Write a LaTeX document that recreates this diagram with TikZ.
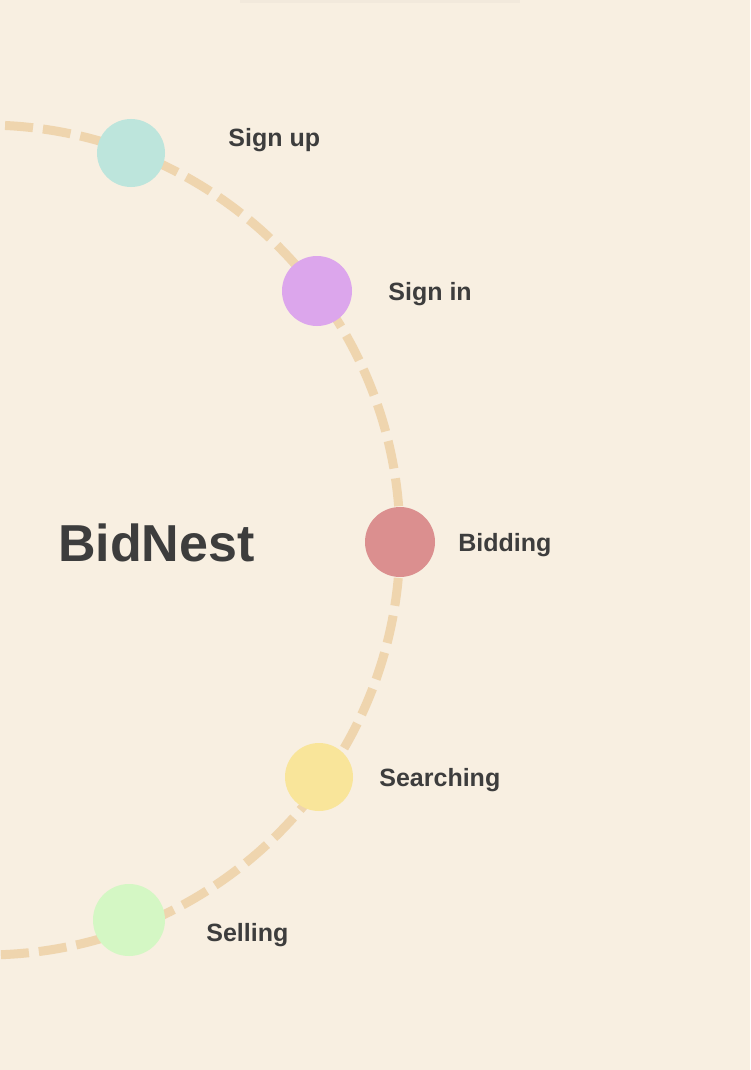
\documentclass[tikz,border=0pt]{standalone}
\usepackage{fontspec}
\setmainfont{Liberation Sans}
\usetikzlibrary{positioning}
\definecolor{paper}{HTML}{F8EFE1}
\definecolor{track}{HTML}{EFD5AE}
\definecolor{ink}{HTML}{3D3D3D}
\definecolor{mint}{HTML}{BDE5DC}
\definecolor{lilac}{HTML}{DCA6EC}
\definecolor{rose}{HTML}{DB8F8F}
\definecolor{butter}{HTML}{F9E59A}
\definecolor{pea}{HTML}{D4F7C4}

\begin{document}
\begin{tikzpicture}[x=1pt,y=-1pt,
    stop/.style={circle,minimum size=70pt,inner sep=0pt},
    caption/.style={text=ink,font=\bfseries\fontsize{25}{30}\selectfont,inner sep=0pt}]
\fill[paper] (0,0) rectangle (750,1070);
\useasboundingbox (0,0) rectangle (750,1070);
\fill[paper!96!black!60!paper] (240,0) rectangle (520,3);
\clip (0,0) rectangle (750,1070);
% the track
\draw[track,line width=9pt,dash pattern=on 28pt off 10pt] (-15,540) circle[radius=415];
% the stops
\node [stop,fill=mint,minimum size=68pt] (signup) at (131,153) {};
\node [stop,fill=lilac] (signin) at (317,291) {};
\node [stop,fill=rose] (bidding) at (400,542) {};
\node [stop,fill=butter,minimum size=68pt] (searching) at (319,777) {};
\node [stop,fill=pea,minimum size=72pt] (selling) at (129,920) {};
% the captions
\node [caption,right=63pt of signup,yshift=13pt] (signup-text) {Sign up};
\node [caption,right=36pt of signin,yshift=-3pt] (signin-text) {Sign in};
\node [caption,right=23pt of bidding,yshift=-3pt] (bidding-text) {Bidding};
\node [caption,right=26pt of searching,yshift=-3pt] (searching-text) {Searching};
\node [caption,right=41pt of selling,yshift=-15pt] (selling-text) {Selling};
\node [text=ink,font=\bfseries\fontsize{52}{60}\selectfont,inner sep=0pt,anchor=west] (title) at (58,543) {BidNest};
\end{tikzpicture}
\end{document}
